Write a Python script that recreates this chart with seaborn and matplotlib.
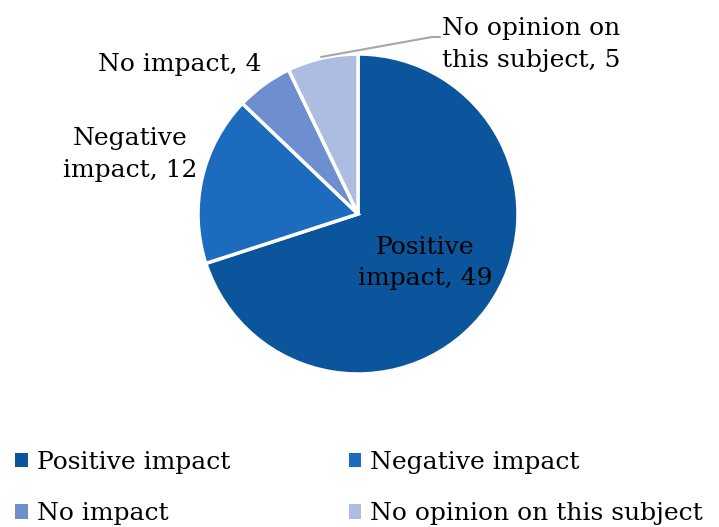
import matplotlib
matplotlib.use('Agg')
import matplotlib.pyplot as plt
from matplotlib.patches import Patch
import seaborn as sns

# ── Données ──────────────────────────────────────────────────────────────────
categories = ['Positive impact', 'Negative impact', 'No impact', 'No opinion on this subject']
values = [49, 12, 4, 5]
slice_labels = ['Positive\nimpact, 49', 'Negative\nimpact, 12', 'No impact, 4',
                'No opinion on\nthis subject, 5']
colors = ['#0b559c', '#1d6bbf', '#6d8fd0', '#adbde2']

sns.set_theme(style='white')
plt.rcParams['font.family'] = ['DejaVu Serif']

fig = plt.figure(figsize=(7.19, 5.27), dpi=100)
ax = fig.add_axes([0, 0, 1, 1])

center = (358, 313)
wedges, _ = ax.pie(values, colors=colors, startangle=90, counterclock=False,
                   center=center, radius=160,
                   wedgeprops=dict(edgecolor='white', linewidth=2.5))
ax.set_xlim(0, 719)
ax.set_ylim(0, 527)
ax.set_aspect('equal')
ax.axis('off')

fs = 18
ls = 1.5
ax.text(425, 264, slice_labels[0], ha='center', va='center', fontsize=fs, linespacing=ls, color='black')
ax.text(130, 373, slice_labels[1], ha='center', va='center', fontsize=fs, linespacing=ls, color='black')
ax.text(180, 462, slice_labels[2], ha='center', va='center', fontsize=fs, color='black')
ax.text(531, 482, slice_labels[3], ha='center', va='center', fontsize=fs, linespacing=ls, color='black')
ax.plot([321, 432, 440], [470, 490, 490], color='#a6a6a6', lw=1.5)

# ordre ligne par ligne dans une légende à 2 colonnes
order = [0, 2, 1, 3]
handles = [Patch(facecolor=colors[i], edgecolor='none') for i in order]
labels = [categories[i] for i in order]
leg = ax.legend(handles, labels, ncol=2, loc='lower left',
                bbox_to_anchor=(-0.003, -0.03), frameon=False, fontsize=fs,
                handlelength=0.5, handleheight=0.5, handletextpad=0.35,
                columnspacing=4.75, labelspacing=1.15, borderaxespad=0.3,
                labelcolor='black')

fig.savefig('out.png', dpi=100)
